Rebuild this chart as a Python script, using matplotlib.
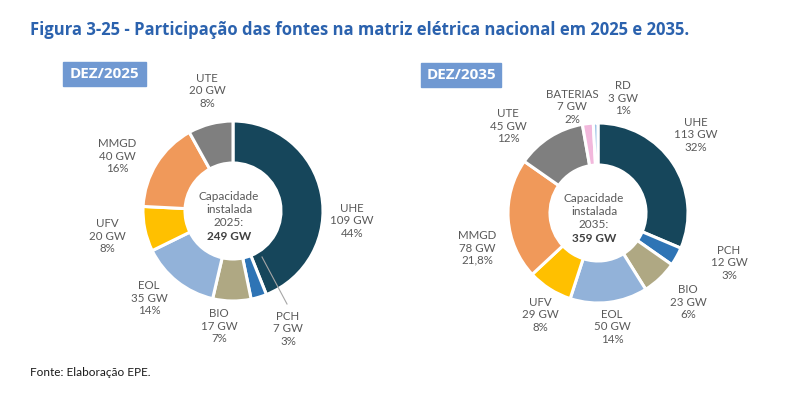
import matplotlib.pyplot as plt
from matplotlib.patches import Rectangle

plt.rcParams['font.family'] = ['Lato', 'DejaVu Sans']

# dados 2025
fontes_2025 = ['UHE', 'PCH', 'BIO', 'EOL', 'UFV', 'MMGD', 'UTE']
gw_2025 = [109, 7, 17, 35, 20, 40, 20]
pct_2025 = ['44%', '3%', '7%', '14%', '8%', '16%', '8%']
total_2025 = 249

# dados 2035
fontes_2035 = ['UHE', 'PCH', 'BIO', 'EOL', 'UFV', 'MMGD', 'UTE', 'BATERIAS', 'RD']
gw_2035 = [113, 12, 23, 50, 29, 78, 45, 7, 3]
pct_2035 = ['32%', '3%', '6%', '14%', '8%', '21,8%', '12%', '2%', '1%']
total_2035 = 359

cores = {'UHE': '#16465B', 'PCH': '#2E74B5', 'BIO': '#AFA883', 'EOL': '#92B2D9',
         'UFV': '#FFC000', 'MMGD': '#F0995A', 'UTE': '#7F7F7F',
         'BATERIAS': '#F2B8DC', 'RD': '#9DC3E6'}

W, H = 800, 396
fig = plt.figure(figsize=(8, 3.96), dpi=100)
ax = fig.add_axes([0, 0, 1, 1])


def Y(py):
    return H - py


cinza = '#595959'


def donut(fontes, gw, pct, total, ano, centro, pos_rot, caixa):
    cx, cy = centro
    ax.pie(gw, colors=[cores[f] for f in fontes], startangle=90, counterclock=False,
           radius=90, center=(cx, Y(cy)),
           wedgeprops=dict(width=42, edgecolor='white', linewidth=2.2))
    for f, g, p in zip(fontes, gw, pct):
        x, y = pos_rot[f]
        ax.text(x, Y(y), f'{f}\n{g} GW\n{p}', ha='center', va='center',
                multialignment='center', fontsize=8.3, color=cinza, linespacing=1.15)
    linhas = ['Capacidade', 'instalada', f'{ano}:']
    for i, t in enumerate(linhas):
        ax.text(cx - 4, Y(cy - 15 + i * 13.5), t, ha='center', va='center',
                fontsize=8.5, color=cinza)
    ax.text(cx - 4, Y(cy - 15 + 3 * 13.5), f'{total} GW', ha='center', va='center',
            fontsize=8.5, color='#404040', fontweight='bold')
    x0, y0, x1, y1 = caixa
    ax.add_patch(Rectangle((x0, Y(y1)), x1 - x0, y1 - y0, color='#7099D2'))
    ax.text((x0 + x1) / 2, Y((y0 + y1) / 2), f'DEZ/{ano}', ha='center', va='center',
            fontsize=11, color='white', fontweight='bold', family=['Open Sans', 'DejaVu Sans'])


donut(fontes_2025, gw_2025, pct_2025, total_2025, 2025, (233, 211),
      {'UHE': (352, 221), 'PCH': (288, 329), 'BIO': (219, 326), 'EOL': (149, 298),
       'UFV': (107, 236), 'MMGD': (117, 156), 'UTE': (207, 91)},
      (63, 62, 146, 86))

donut(fontes_2035, gw_2035, pct_2035, total_2035, 2035, (598, 213),
      {'UHE': (696, 135), 'PCH': (729, 263), 'BIO': (688, 302), 'EOL': (612, 327),
       'UFV': (540, 315), 'MMGD': (477, 248), 'UTE': (508, 126),
       'BATERIAS': (572, 107), 'RD': (623, 98)},
      (421, 63, 501, 87))

# linha guia PCH 2025
ax.plot([262, 287], [Y(257), Y(304)], color='#A6A6A6', linewidth=0.8)

ax.text(30, Y(30), 'Figura 3-25 - Participação das fontes na matriz elétrica nacional em 2025 e 2035.',
        ha='left', va='center', fontsize=12, fontweight='bold', color='#2B62AE',
        family=['Open Sans', 'DejaVu Sans'])
ax.text(30, Y(373), 'Fonte: Elaboração EPE.', ha='left', va='center', fontsize=8.5, color='#1A1A1A')

ax.set_xlim(0, W)
ax.set_ylim(0, H)
ax.set_aspect('equal')
ax.axis('off')

fig.savefig('out.png', dpi=100)
